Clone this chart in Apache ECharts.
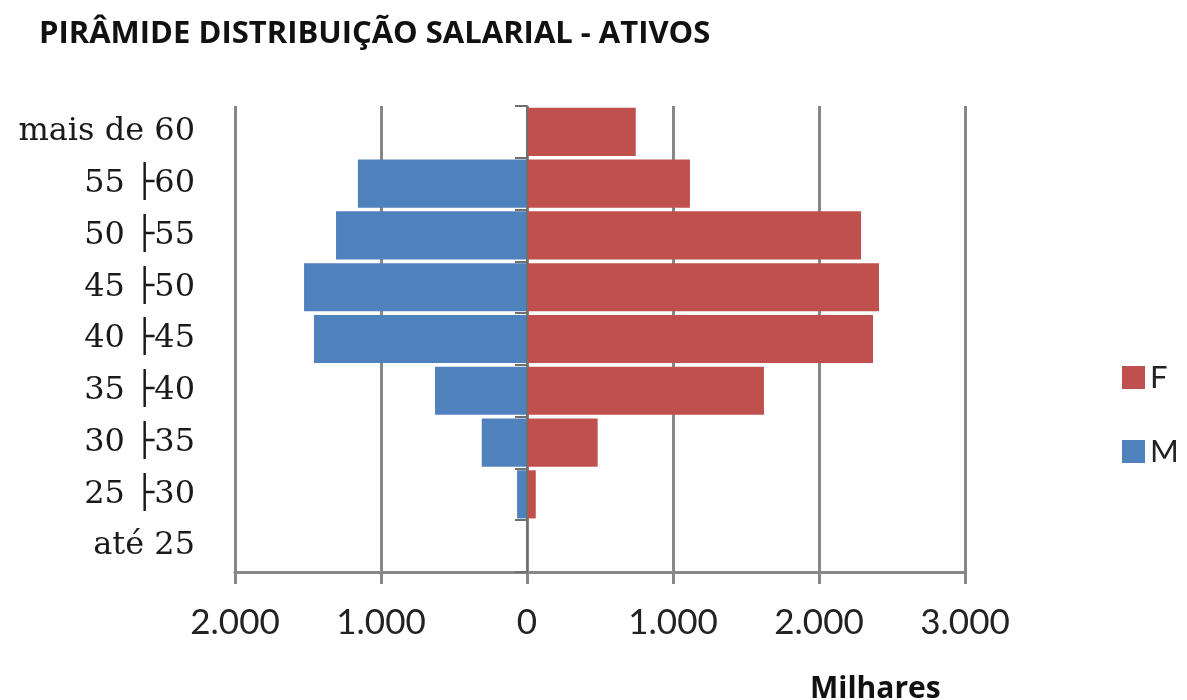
<!DOCTYPE html>
<html>
<head>
<meta charset="utf-8">
<script src="https://cdn.jsdelivr.net/npm/echarts@6/dist/echarts.min.js"></script>
<style>
html, body { margin: 0; padding: 0; background: #fff; }
#main { width: 1187px; height: 700px; }
</style>
</head>
<body>
<div id="main"></div>
<script>
// faixas etárias, de baixo para cima
var faixas = ['até 25', '25 ├30', '30 ├35', '35 ├40', '40 ├45', '45 ├50', '50 ├55', '55 ├60', 'mais de 60'];
// valores em milhares
var valoresF = [0, 60, 484, 1623, 2370, 2411, 2288, 1116, 745];
var valoresM = [0, 68, 310, 630, 1459, 1527, 1308, 1158, 0];

var cinza = '#878787';
var fmt = function (v) {
    var n = Math.abs(v);
    return n >= 1000 ? Math.floor(n / 1000) + '.' + ('00' + (n % 1000)).slice(-3) : String(n);
};

var myChart = echarts.init(document.getElementById('main'));
var option = {
    backgroundColor: '#fff',
    animation: false,
    title: {
        text: 'PIRÂMIDE DISTRIBUIÇÃO SALARIAL - ATIVOS',
        left: 34,
        top: 14,
        textStyle: { fontFamily: 'Open Sans', fontWeight: 'bold', fontSize: 31, color: '#111' }
    },
    legend: {
        data: ['F', 'M'],
        orient: 'vertical',
        left: 1117,
        top: 357,
        itemWidth: 23,
        itemHeight: 23,
        itemGap: 43,
        icon: 'rect',
        textStyle: { fontFamily: 'Lato', fontSize: 31, color: '#222' }
    },
    grid: { left: 235, right: 222, top: 106, bottom: 128 },
    xAxis: {
        type: 'value',
        min: -2000,
        max: 3000,
        interval: 1000,
        axisLine: { show: true, onZero: false, lineStyle: { color: cinza, width: 3 } },
        axisTick: { show: true, length: 12, lineStyle: { color: cinza, width: 3 } },
        splitLine: { show: true, lineStyle: { color: cinza, width: 3 } },
        axisLabel: {
            margin: 33,
            formatter: fmt,
            fontFamily: 'Lato',
            fontSize: 35,
            color: '#222'
        }
    },
    yAxis: [
        {
            type: 'category',
            data: faixas,
            axisLine: { show: false, onZero: false },
            axisTick: { show: false },
            axisLabel: {
                margin: 40,
                fontFamily: 'DejaVu Serif',
                fontSize: 32,
                color: '#1a1a1a'
            }
        },
        {
            type: 'category',
            data: faixas,
            position: 'left',
            axisLine: { show: true, onZero: true, lineStyle: { color: '#707070', width: 2 } },
            axisTick: { show: true, length: 12, lineStyle: { color: '#707070', width: 2 } },
            axisLabel: { show: false },
            z: 5
        }
    ],
    series: [
        {
            name: 'F',
            type: 'bar',
            data: valoresF,
            barGap: '-100%',
            barCategoryGap: '7%',
            itemStyle: { color: '#C0504D' }
        },
        {
            name: 'M',
            type: 'bar',
            data: valoresM.map(function (v) { return -v; }),
            barGap: '-100%',
            barCategoryGap: '7%',
            itemStyle: { color: '#4F81BD' }
        }
    ],
    graphic: [
        {
            type: 'text',
            left: 810,
            top: 674,
            style: {
                text: 'Milhares',
                fontFamily: 'Open Sans',
                fontWeight: 'bold',
                fontSize: 30,
                fill: '#111'
            }
        }
    ]
};
myChart.setOption(option);
</script>
</body>
</html>
